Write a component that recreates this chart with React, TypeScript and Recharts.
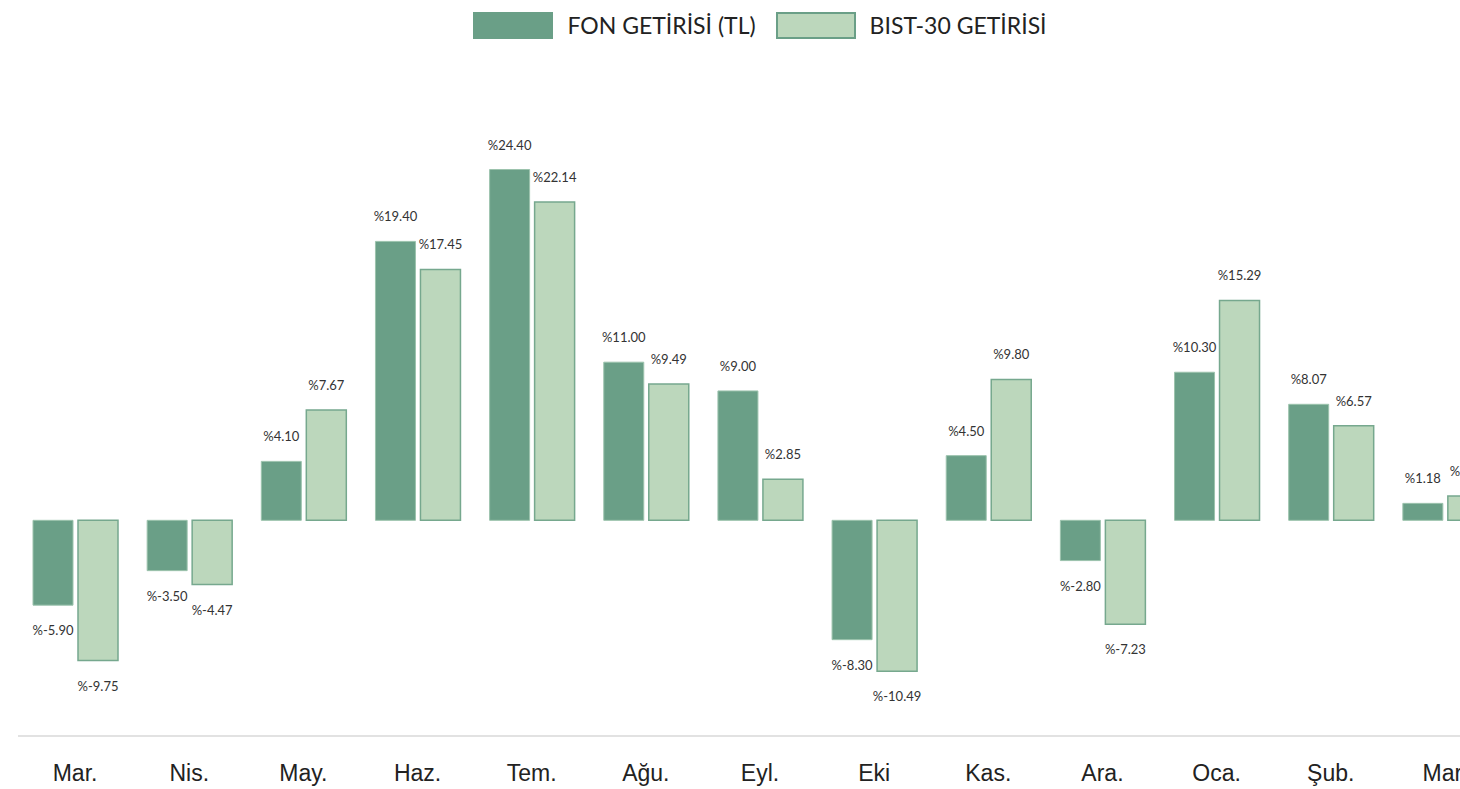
import React from "react";
import { BarChart, Bar, XAxis, YAxis, Legend, LabelList } from "recharts";

const months = ["Mar.", "Nis.", "May.", "Haz.", "Tem.", "Ağu.", "Eyl.", "Eki", "Kas.", "Ara.", "Oca.", "Şub.", "Mar."];
const fonGetirisi = [-5.9, -3.5, 4.1, 19.4, 24.4, 11.0, 9.0, -8.3, 4.5, -2.8, 10.3, 8.07, 1.18];
const bistGetirisi = [-9.75, -4.47, 7.67, 17.45, 22.14, 9.49, 2.85, -10.49, 9.8, -7.23, 15.29, 6.57, 1.7];

const data = months.map((m, i) => ({ i, ay: m, fon: fonGetirisi[i], bist: bistGetirisi[i] }));

const DARK = "#6a9f87";
const LIGHT = "#bcd7bc";
const FONT = "'Source Sans Pro', Lato, 'Open Sans', sans-serif";

const pct = (v: number) => `%${v.toFixed(2)}`;

const ValueLabel = (props: any) => {
  const { x, y, width, height, value } = props;
  const top = Math.min(y, y + height);
  const bottom = Math.max(y, y + height);
  const ty = value >= 0 ? top - 20 : bottom + 30;
  return (
    <text x={x + width / 2} y={ty} textAnchor="middle" fontSize={13} fill="#333" fontFamily={FONT}>
      {pct(value)}
    </text>
  );
};

const LegendBox = () => (
  <div style={{ display: "flex", justifyContent: "center", alignItems: "center", fontFamily: FONT, fontSize: 23, color: "#222" }}>
    <span style={{ width: 80, height: 27, background: DARK, display: "inline-block", boxSizing: "border-box" }} />
    <span style={{ margin: "0 20px 0 14px" }}>FON GETİRİSİ (TL)</span>
    <span style={{ width: 80, height: 27, background: LIGHT, border: `2px solid ${DARK}`, display: "inline-block", boxSizing: "border-box" }} />
    <span style={{ marginLeft: 14 }}>BIST-30 GETİRİSİ</span>
  </div>
);

export default function App() {
  return (
    <div style={{ position: "absolute", left: 0, top: 0, width: 1460, height: 789, overflow: "hidden" }}>
      <BarChart
        width={1520}
        height={789}
        data={data}
        margin={{ top: 61, right: 18, bottom: 15, left: 18 }}
        barSize={40}
        barGap={5}
      >
        <Legend
          verticalAlign="top"
          content={() => <LegendBox />}
          wrapperStyle={{ top: 11, left: 0, width: 1520 }}
        />
        <XAxis
          dataKey="i"
          height={38}
          tickFormatter={(i: number) => months[i]}
          axisLine={{ stroke: "#e2e2e2", strokeWidth: 2 }}
          tickLine={false}
          tickSize={0}
          tickMargin={29}
          tick={{ fontSize: 23, fill: "#222", fontFamily: "'Liberation Sans', Arial, sans-serif" }}
          interval={0}
        />
        <YAxis hide domain={[-15, 30]} />
        <Bar dataKey="fon" fill={DARK} stroke="#9cc3ad" strokeWidth={1} isAnimationActive={false}>
          <LabelList dataKey="fon" content={ValueLabel} />
        </Bar>
        <Bar dataKey="bist" fill={LIGHT} stroke="#76a88e" strokeWidth={1.5} isAnimationActive={false}>
          <LabelList dataKey="bist" content={ValueLabel} />
        </Bar>
      </BarChart>
    </div>
  );
}
